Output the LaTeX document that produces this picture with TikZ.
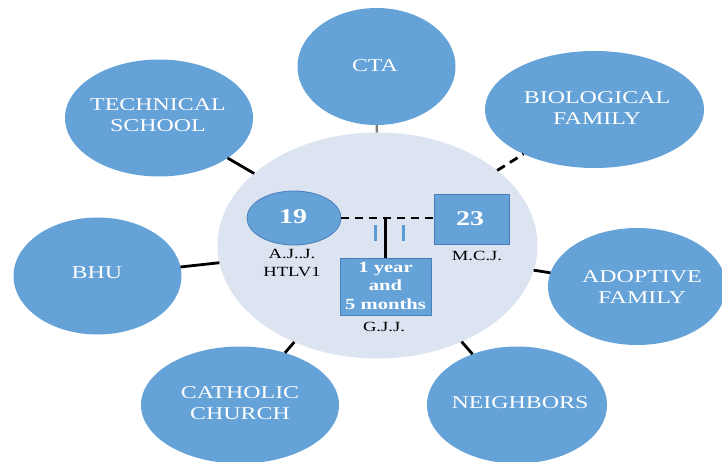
\documentclass[tikz,border=0pt]{standalone}
\usepackage{fontspec}
\setmainfont{Liberation Serif}
\usepackage{graphicx}
\usetikzlibrary{shapes.geometric}

\definecolor{nodeblue}{RGB}{100,162,216}
\definecolor{hubfill}{RGB}{220,227,241}
\definecolor{edgeblue}{RGB}{74,126,187}
\definecolor{barblue}{RGB}{91,155,213}
\definecolor{linkgray}{RGB}{128,128,128}

% text is set slightly wide
\newcommand{\wide}[1]{\scalebox{1.33}[1]{#1}}
\newcommand{\lines}[1]{\begin{tabular}{@{}c@{}}#1\end{tabular}}

\begin{document}
\begin{tikzpicture}[x=1pt,y=-1pt,
  sector/.style={ellipse, fill=nodeblue, draw=none, inner sep=0pt, outer sep=0pt,
                 minimum height=117pt},
  sectortext/.style={text=white, inner sep=0pt,
                 font=\fontsize{18}{21}\selectfont},
  hub/.style={ellipse, fill=hubfill, draw=none, inner sep=0pt, outer sep=0pt,
              minimum width=320pt, minimum height=226pt},
  person/.style={fill=nodeblue, draw=edgeblue, line width=0.8pt,
                 inner sep=0pt, outer sep=0pt},
  age/.style={text=white, inner sep=0pt, font=\bfseries\fontsize{21}{25}\selectfont},
  agebox/.style={text=white, inner sep=0pt, font=\bfseries\fontsize{15.5}{18.5}\selectfont},
  tag/.style={text=black, inner sep=0pt, font=\fontsize{14}{17.5}\selectfont},
  link/.style={draw=black, line width=2.8pt},
  weaklink/.style={draw=black, line width=2.8pt, dash pattern=on 9pt off 6pt},
  faintlink/.style={draw=linkgray, line width=2.5pt},
  couple/.style={draw=black, line width=2.5pt, dash pattern=on 8pt off 6pt},
  descent/.style={draw=black, line width=2.5pt},
  twinbar/.style={draw=barblue, line width=3pt}
]
\useasboundingbox (0,0) rectangle (722,462);

% central household
\node[hub] (home) at (377.5,245.5) {};

% surrounding network
\node[sector, minimum width=158pt] (cta)    at (376.5,66.5) {};
\node[sector, minimum width=188pt] (school) at (159,118)    {};
\node[sector, minimum width=219pt] (bio)    at (594.5,109.5){};
\node[sector, minimum width=168pt] (bhu)    at (97.5,276)   {};
\node[sector, minimum width=178pt] (adopt)  at (637,286.5)  {};
\node[sector, minimum width=198pt] (church) at (240,405)    {};
\node[sector, minimum width=180pt] (neigh)  at (517,405)    {};

\node[sectortext] (ctaT)    at (375,66)  {\wide{CTA}};
\node[sectortext] (schoolT) at (158,117) {\wide{\lines{TECHNICAL\\SCHOOL}}};
\node[sectortext] (bioT)    at (597,110) {\wide{\lines{BIOLOGICAL\\FAMILY}}};
\node[sectortext] (bhuT)    at (97,273)  {\wide{BHU}};
\node[sectortext] (adoptT)  at (642,289) {\wide{\lines{ADOPTIVE\\FAMILY}}};
\node[sectortext] (churchT) at (240,405) {\wide{\lines{CATHOLIC\\CHURCH}}};
\node[sectortext] (neighT)  at (520,403) {\wide{NEIGHBORS}};

% ties between the household and the network
\draw[faintlink] (cta) -- (home);
\draw[link]      (school) -- (home);
\draw[weaklink]  (home) -- (bio);
\draw[link]      (bhu) -- (home);
\draw[link]      (home) -- (adopt);
\draw[link]      (church) -- (home);
\draw[link]      (home) -- (neigh);

% family members
\node[person, ellipse, minimum width=94pt, minimum height=54pt] (mother) at (294,218) {};
\node[person, rectangle, minimum width=75pt, minimum height=50pt] (father) at (471.5,219) {};
\node[person, rectangle, minimum width=91pt, minimum height=57pt] (child) at (385.5,286.5) {};

\node[age] (motherAge) at (293,217) {\wide{19}};
\node[age] (fatherAge) at (470,219) {\wide{23}};
\node[agebox] (childAge) at (385.5,287) {\wide{\lines{1 year\\and\\5 months}}};

% couple line and descent line
\coordinate (union) at (child.north |- mother.east);
\draw[couple]  (mother.east) -- (mother.east -| father.west);
\draw[descent] (union) -- (child.north);
\draw[twinbar] (375,225) -- (375,241);
\draw[twinbar] (403,225) -- (403,241);

% names
\node[tag] (motherName) at (292,264) {\wide{\lines{A.J..J.\\HTLV1}}};
\node[tag] (fatherName) at (477,256) {\wide{M.C.J.}};
\node[tag] (childName)  at (384,327) {\wide{G.J.J.}};
\end{tikzpicture}
\end{document}
